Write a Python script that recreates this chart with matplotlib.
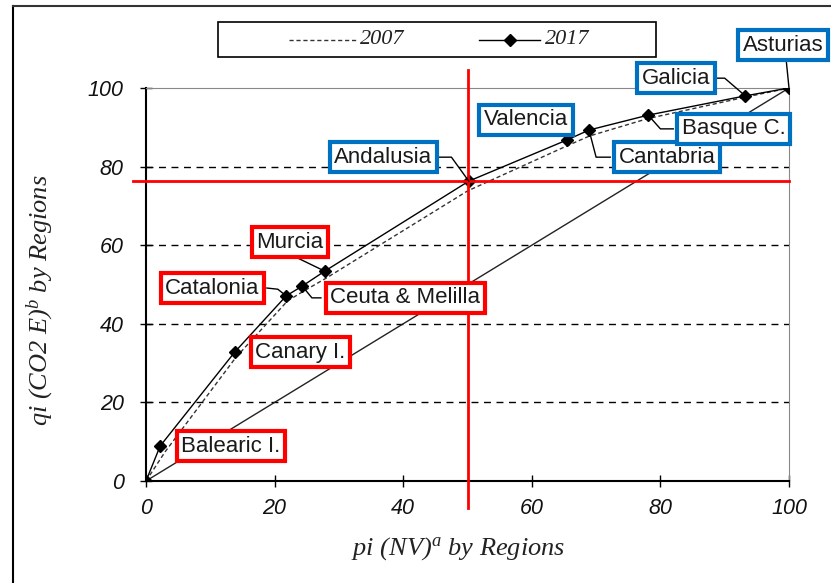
import matplotlib
matplotlib.use("Agg")
import matplotlib.pyplot as plt
from matplotlib.lines import Line2D
from matplotlib.patches import Rectangle

plt.rcParams["mathtext.fontset"] = "custom"
plt.rcParams["mathtext.it"] = "Liberation Serif:italic"
plt.rcParams["mathtext.rm"] = "Liberation Serif:italic"

# ---- data ----
regions = ["Balearic I.", "Canary I.", "Catalonia", "Ceuta & Melilla", "Murcia",
           "Andalusia", "Valencia", "Cantabria", "Basque C.", "Galicia", "Asturias"]
x2017 = [0, 2.2, 13.8, 21.8, 24.3, 27.8, 50.2, 65.5, 68.9, 78.1, 93.2, 100]
y2017 = [0, 8.9, 32.8, 47.1, 49.6, 53.4, 76.3, 86.8, 89.3, 93.1, 98.0, 100]
x2007 = [0, 3.0, 14.0, 22.0, 24.5, 28.0, 50.0, 65.5, 69.0, 78.0, 93.0, 100]
y2007 = [0, 7.5, 31.5, 45.8, 48.3, 51.6, 73.8, 85.3, 87.8, 92.2, 97.6, 100]
equality_x = [0, 100]
equality_y = [0, 100]
ref_x = 50.0
ref_y = 76.3
xticks = [0, 20, 40, 60, 80, 100]
yticks = [0, 20, 40, 60, 80, 100]
grid_y = [20, 40, 60, 80]
series_labels = ["2007", "2017"]

label_pos = {
    "Asturias": (99.1, 110.9), "Galicia": (82.4, 102.5), "Valencia": (59.1, 91.9),
    "Basque C.": (91.4, 89.6), "Cantabria": (81.0, 82.4), "Andalusia": (36.9, 82.4),
    "Murcia": (22.4, 60.8), "Catalonia": (10.3, 49.1), "Ceuta & Melilla": (40.3, 46.6),
    "Canary I.": (24.0, 32.8), "Balearic I.": (13.2, 8.9),
}
blue_regions = ["Asturias", "Galicia", "Valencia", "Basque C.", "Cantabria", "Andalusia"]

W, H = 831, 583
fig = plt.figure(figsize=(W / 100, H / 100), dpi=100)
ax = fig.add_axes([146 / W, 1 - 481 / H, (789 - 146) / W, (481 - 88) / H])
ax.set_xlim(0, 100)
ax.set_ylim(0, 100)

for g in grid_y:
    ax.axhline(g, color="black", lw=1.0, ls=(0, (5, 4)), zorder=1)

ax.plot(equality_x, equality_y, color="#222222", lw=1.0, zorder=2)
ax.plot(x2007, y2007, color="#333333", lw=1.0, ls=(0, (3, 2)), zorder=2)
ax.plot(x2017, y2017, color="black", lw=1.0, marker="D", ms=6, zorder=3)

# red reference lines
ax.plot([ref_x, ref_x], [104.6, -6.9], color="red", lw=2, clip_on=False, zorder=4)
ax.plot([-2.0, 100], [ref_y, ref_y], color="red", lw=2, clip_on=False, zorder=4)

# spines
for s in ["left", "bottom"]:
    ax.spines[s].set_color("black")
    ax.spines[s].set_linewidth(1.5)
ax.spines["top"].set_color("#888888")
ax.spines["right"].set_color("#888888")

ax.set_xticks(xticks)
ax.set_yticks(yticks)
ax.tick_params(direction="inout", length=8, width=1, labelsize=15.5)
for lab in ax.get_xticklabels() + ax.get_yticklabels():
    lab.set_fontfamily("Liberation Sans")
    lab.set_fontstyle("italic")
    lab.set_color("#111111")
ax.tick_params(axis="x", pad=8)
ax.tick_params(axis="y", pad=12)

ax.set_xlabel(r"pi (NV)$^a$ by Regions", family="Liberation Serif", style="italic",
              fontsize=19, color="#222222")
ax.xaxis.set_label_coords((458 - 146) / (789 - 146), -(549 - 481) / (481 - 88))
ax.set_ylabel(r"qi (CO2 E)$^b$ by Regions", family="Liberation Serif", style="italic",
              fontsize=19, color="#222222")
ax.yaxis.set_label_coords(-(146 - 40) / (789 - 146), (481 - 300) / (481 - 88))
ax.xaxis.label.set_va("center")
ax.yaxis.label.set_va("center")

# labels with boxes
for name in regions:
    cx, cy = label_pos[name]
    col = "#0070C0" if name in blue_regions else "#FF0000"
    ax.text(cx, cy, name, ha="center", va="center", fontsize=16,
            family="Liberation Sans", color="#1a1a1a", zorder=6, clip_on=False,
            bbox=dict(boxstyle="square,pad=0.2", fc="white", ec=col, lw=3))

leaders = {
    "Asturias": [(99.6, 106.5), (100, 100)],
    "Galicia": [(88.4, 102.5), (90.0, 102.5), (93.2, 98.0)],
    "Basque C.": [(82.0, 89.6), (80.0, 89.6), (78.1, 93.1)],
    "Cantabria": [(72.2, 82.4), (70.0, 82.4), (68.9, 89.3)],
    "Andalusia": [(45.5, 82.4), (47.5, 82.4), (50.2, 76.3)],
    "Murcia": [(23.5, 56.8), (27.8, 53.4)],
    "Catalonia": [(18.8, 49.1), (20.5, 48.8), (21.8, 47.1)],
    "Ceuta & Melilla": [(27.2, 46.6), (25.8, 46.6), (24.3, 49.6)],
}
for name, path in leaders.items():
    xs, ys = zip(*path)
    ax.plot(xs, ys, color="black", lw=1.0, clip_on=False, zorder=5)

# manual legend (figure pixel coordinates -> fraction)
def fx(px):
    return px / W

def fy(py):
    return 1 - py / H

fig.add_artist(Rectangle((fx(218), fy(57)), fx(656) - fx(218), fy(22) - fy(57),
                         transform=fig.transFigure, fill=False, ec="black", lw=1.2))
fig.add_artist(Line2D([fx(289), fx(356)], [fy(40), fy(40)], color="#333333", lw=1.0,
                      ls=(0, (3, 2)), transform=fig.transFigure))
fig.add_artist(Line2D([fx(479), fx(540)], [fy(40), fy(40)], color="black", lw=1.0,
                      transform=fig.transFigure))
fig.add_artist(Line2D([fx(509.5)], [fy(40)], color="black", marker="D", ms=6,
                      transform=fig.transFigure))
fig.text(fx(360), fy(40), series_labels[0], ha="left", va="center",
         family="Liberation Serif", style="italic", fontsize=16, color="#222222")
fig.text(fx(545), fy(40), series_labels[1], ha="left", va="center",
         family="Liberation Serif", style="italic", fontsize=16, color="#222222")

# outer frame
fig.add_artist(Line2D([fx(13), fx(13)], [0, fy(6)], color="black", lw=1.5,
                      transform=fig.transFigure))
fig.add_artist(Line2D([fx(13), 1], [fy(6), fy(6)], color="#333333", lw=1.5,
                      transform=fig.transFigure))

fig.savefig("out.png", dpi=100)
